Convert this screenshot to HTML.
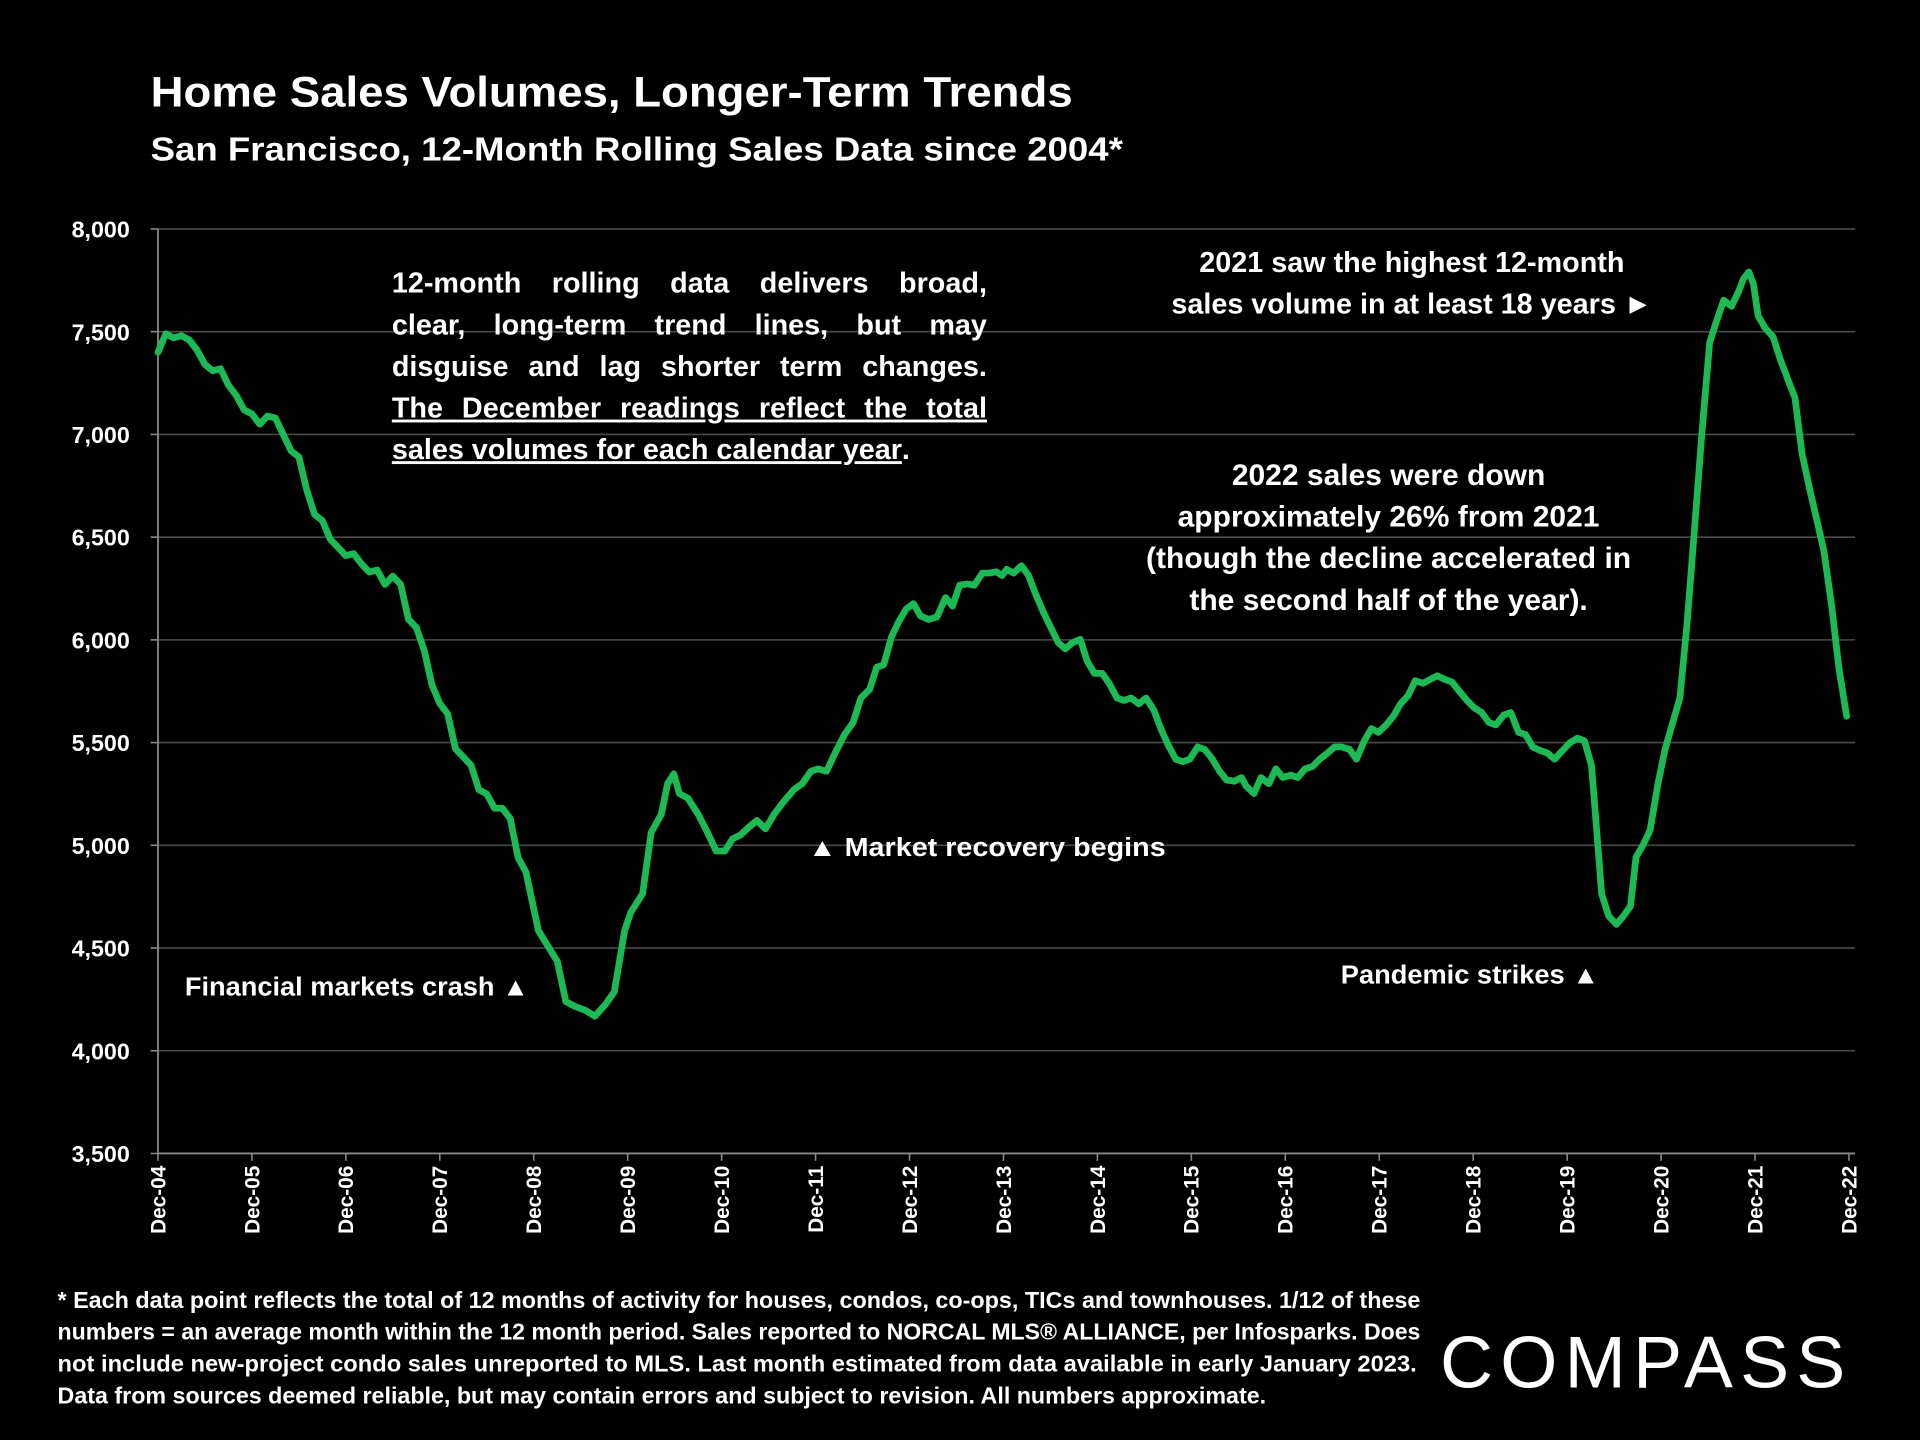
<!DOCTYPE html>
<html><head><meta charset="utf-8"><style>
html,body{margin:0;padding:0;background:#000;}
svg{display:block;}
text{font-family:"Liberation Sans",sans-serif;fill:#fff;}
.b{font-weight:bold;}
</style></head><body>
<svg id="chart" width="1920" height="1440" viewBox="0 0 1568 1176" xmlns="http://www.w3.org/2000/svg">
<rect width="1568" height="1176" fill="#000"/>
<text class="b" x="123" y="87" font-size="35" textLength="753" lengthAdjust="spacingAndGlyphs">Home Sales Volumes, Longer-Term Trends</text>
<text class="b" x="123" y="131" font-size="27" textLength="794" lengthAdjust="spacingAndGlyphs">San Francisco, 12-Month Rolling Sales Data since 2004*</text>
<g id="grid"></g><g id="yticks"></g><g id="xticks"></g>
<path id="line" fill="none" stroke="#1db954" stroke-width="5.5" stroke-linejoin="round" stroke-linecap="round"/>
<g class="b" font-size="23.5">
<text class="just" x="320" y="239">12-month rolling data delivers broad,</text>
<text class="just" x="320" y="273">clear, long-term trend lines, but may</text>
<text class="just" x="320" y="307">disguise and lag shorter term changes.</text>
<text class="just" x="320" y="341" text-decoration="underline">The December readings reflect the total</text>
<text x="320" y="375"><tspan text-decoration="underline">sales volumes for each calendar year</tspan>.</text>
</g>
<g class="b" font-size="23.5" text-anchor="middle">
<text x="1153" y="222">2021 saw the highest 12-month</text>
<text x="1153" y="256">sales volume in at least 18 years ►</text>
</g>
<g class="b" font-size="24.5" text-anchor="middle">
<text x="1134" y="396">2022 sales were down</text>
<text x="1134" y="430">approximately 26% from 2021</text>
<text x="1134" y="464">(though the decline accelerated in</text>
<text x="1134" y="498">the second half of the year).</text>
</g>
<text class="b" font-size="21" x="151" y="813" textLength="281" lengthAdjust="spacingAndGlyphs">Financial markets crash ▲</text>
<text class="b" font-size="21" x="660" y="699" textLength="292" lengthAdjust="spacingAndGlyphs">▲  Market recovery begins</text>
<text class="b" font-size="21" x="1095" y="803" textLength="211" lengthAdjust="spacingAndGlyphs">Pandemic strikes ▲</text>
<g class="b" font-size="18.5">
<text x="47" y="1068" textLength="1113" lengthAdjust="spacingAndGlyphs">* Each data point reflects the total of 12 months of activity for houses, condos, co-ops, TICs and townhouses. 1/12 of these</text>
<text x="47" y="1094" textLength="1113" lengthAdjust="spacingAndGlyphs">numbers = an average month within the 12 month period. Sales reported to NORCAL MLS® ALLIANCE, per Infosparks. Does</text>
<text x="47" y="1120" textLength="1110" lengthAdjust="spacingAndGlyphs">not include new-project condo sales unreported to MLS. Last month estimated from data available in early January 2023.</text>
<text x="47" y="1146" textLength="987" lengthAdjust="spacingAndGlyphs">Data from sources deemed reliable, but may contain errors and subject to revision. All numbers approximate.</text>
</g>
<text x="1176" y="1133" font-size="60" textLength="331" lengthAdjust="spacing">COMPASS</text>
</svg>
<script>
const yTicks=[3500,4000,4500,5000,5500,6000,6500,7000,7500,8000];
const xLabels=["Dec-04","Dec-05","Dec-06","Dec-07","Dec-08","Dec-09","Dec-10","Dec-11","Dec-12","Dec-13","Dec-14","Dec-15","Dec-16","Dec-17","Dec-18","Dec-19","Dec-20","Dec-21","Dec-22"];
const months=[0,1,2,3,4,5,6,7,8,9,10,11,12,13,14,15,16,17,18,19,20,21,22,23,24,25,26,27,28,29,30,31,32,33,34,35,36,37,38,39,40,41,42,43,44,45,46,47,
48.6,51.0,52.1,53.3,54.6,55.8,57.2,58.3,59.6,60.4,61.9,63.0,64.3,65.1,65.9,66.6,67.7,69.0,70.2,71.3,72.4,73.4,74.4,75.6,76.5,77.6,78.7,79.9,81.2,82.3,83.4,84.3,85.4,86.5,87.7,88.8,89.8,90.9,91.8,92.7,93.7,94.6,95.6,96.5,97.4,98.4,99.5,100.6,101.5,102.4,103.4,104.3,105.3,106.2,107.1,107.8,108.4,109.3,110.3,111.2,112.1,113.1,114.0,115.0,115.9,116.8,117.8,118.7,119.6,120.6,121.5,122.5,123.4,124.3,125.3,126.2,127.2,128.1,129.0,130.0,130.9,131.8,132.8,133.7,134.7,135.6,136.5,137.5,138.4,139.0,140.0,140.9,141.9,142.8,143.7,144.7,145.6,146.5,147.5,148.4,149.4,150.3,151.2,152.2,153.1,154.1,155.0,155.9,156.9,157.8,158.7,159.7,160.6,161.6,162.5,163.4,164.4,165.3,166.3,167.2,168.1,169.1,170.0,170.9,171.9,172.8,173.8,174.7,175.6,176.6,177.5,178.4,179.4,180.3,181.3,182.2,183.1,183.8,184.4,185.3,186.3,187.2,188.1,188.8,189.7,190.6,191.6,192.5,193.5,194.4,195.3,196.3,197.2,198.2,199.1,200.0,201.0,201.9,202.5,203.2,203.8,204.4,205.3,206.3,207.2,208.2,209.1,210.0,211.0,211.9,212.8,213.8,214.7,215.7];
const sales=[7400,7490,7470,7480,7460,7410,7340,7310,7320,7240,7190,7120,7100,7050,7090,7080,7000,6920,6890,6730,6610,6580,6490,6450,6410,6420,6370,6330,6340,6270,6310,6270,6100,6060,5950,5780,5690,5640,5470,5430,5390,5270,5250,5180,5180,5130,4940,4870,
4585,4436,4239,4215,4197,4168,4227,4287,4585,4674,4764,5062,5151,5300,5348,5252,5229,5151,5062,4972,4972,5032,5050,5092,5121,5080,5151,5211,5270,5300,5360,5372,5360,5449,5539,5598,5717,5759,5866,5878,6015,6087,6152,6176,6117,6099,6111,6206,6164,6266,6272,6266,6325,6325,6331,6313,6343,6325,6361,6313,6224,6135,6063,5986,5956,5986,6003,5896,5837,5837,5789,5717,5705,5717,5688,5717,5658,5568,5491,5419,5407,5419,5479,5467,5419,5360,5318,5312,5330,5288,5252,5330,5300,5372,5330,5342,5330,5372,5384,5419,5449,5479,5479,5467,5419,5509,5568,5550,5586,5628,5688,5729,5801,5789,5807,5825,5807,5795,5747,5705,5670,5646,5598,5586,5634,5646,5550,5539,5479,5461,5449,5419,5461,5497,5521,5509,5390,5062,4764,4656,4615,4656,4704,4943,5002,5074,5300,5467,5598,5717,6075,6552,6999,7446,7553,7654,7624,7696,7756,7791,7732,7577,7517,7475,7368,7267,7178,6909,6731,6582,6433,6164,5866,5628];
const X0=129,X1=1510,Y0=942,Y1=187;
const xs=m=>X0+(X1-X0)*m/216;
const ys=v=>Y0-(Y0-Y1)*(v-3500)/4500;
const NS="http://www.w3.org/2000/svg";
function mk(tag,attrs,parent){const e=document.createElementNS(NS,tag);for(const k in attrs)e.setAttribute(k,attrs[k]);parent.appendChild(e);return e;}
const grid=document.getElementById('grid'),yt=document.getElementById('yticks'),xt=document.getElementById('xticks');
yTicks.forEach(v=>{
  const y=ys(v);
  if(v>3500){const g=mk('line',{x1:X0,x2:1515,y1:y,y2:y,stroke:'#4a4a4a','stroke-width':1.3},grid);
  
  }
  mk('line',{x1:X0-6,x2:X0,y1:y,y2:y,stroke:'#888','stroke-width':1.3},yt);
  const t=mk('text',{x:106,y:y+7,'text-anchor':'end','font-size':19,'font-weight':'bold'},yt);
  t.textContent=v.toLocaleString('en-US');
  
  
});
const ax=mk('line',{x1:X0,x2:X0,y1:Y1,y2:Y0,stroke:'#888','stroke-width':1.5},yt);


const bx=mk('line',{x1:X0,x2:1515,y1:Y0,y2:Y0,stroke:'#888','stroke-width':1.5},xt);


xLabels.forEach((lab,i)=>{
  const x=xs(i*12);
  mk('line',{x1:x,x2:x,y1:Y0,y2:Y0+6,stroke:'#888','stroke-width':1.3},xt);
  const t=mk('text',{x:0,y:0,'text-anchor':'end','font-size':17,'font-weight':'bold',transform:`translate(${x+6},${Y0+10}) rotate(-90)`},xt);
  t.textContent=lab;
  
  
});
let d='';
months.forEach((m,i)=>{d+=(i?'L':'M')+xs(m).toFixed(1)+','+ys(sales[i]).toFixed(1);});
document.getElementById('line').setAttribute('d',d);
document.querySelectorAll('text.just').forEach(t=>{
  const len=t.getComputedTextLength();
  const sp=(t.textContent.match(/ /g)||[]).length;
  if(sp&&len<486) t.setAttribute('word-spacing',((486-len)/sp).toFixed(2));
});
</script>
</body></html>
